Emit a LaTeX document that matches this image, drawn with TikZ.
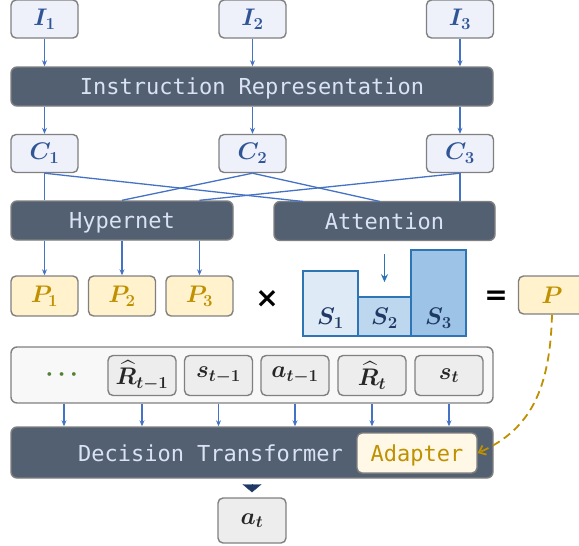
\RequirePackage{fix-cm}
\documentclass[tikz,border=0pt]{standalone}
\usepackage{amsmath,bm}
\usepackage{fontspec}
\setmonofont{DejaVu Sans Mono}
\newfontfamily\opfont{DejaVu Sans}
\usetikzlibrary{arrows.meta,calc}
\definecolor{bord}{HTML}{808080}
\definecolor{darkfill}{HTML}{536072}
\definecolor{bartext}{HTML}{DAE3F3}
\definecolor{lav}{HTML}{EEF0FA}
\definecolor{ibl}{HTML}{2F5597}
\definecolor{lineblue}{HTML}{4472C4}
\definecolor{pfill}{HTML}{FFF2CC}
\definecolor{gold}{HTML}{BF9000}
\definecolor{adfill}{HTML}{FFF8E6}
\definecolor{seqfill}{HTML}{F8F8F8}
\definecolor{innerfill}{HTML}{EDEDED}
\definecolor{mathdark}{HTML}{262626}
\definecolor{dotgreen}{HTML}{548235}
\definecolor{navy}{HTML}{1F3864}
\definecolor{sborder}{HTML}{2E75B6}
\definecolor{sone}{HTML}{DEEBF7}
\definecolor{stwo}{HTML}{BDD7EE}
\definecolor{sthree}{HTML}{9DC3E6}
\tikzset{
  mathfont/.style={font=\fontsize{24}{26}\selectfont},
  ibox/.style={draw=bord, line width=1.4pt, rounded corners=5pt, fill=lav, text=ibl,
    minimum width=67pt, minimum height=38pt, inner sep=0pt, mathfont},
  bar/.style={draw=bord, line width=1.4pt, rounded corners=6pt, fill=darkfill, text=bartext,
    inner sep=0pt, text height=18pt, text depth=2pt, font=\ttfamily\fontsize{22}{24}\selectfont},
  pbox/.style={draw=bord, line width=1.4pt, rounded corners=5pt, fill=pfill, text=gold,
    minimum width=67pt, minimum height=40pt, inner sep=0pt, mathfont},
  seqbox/.style={draw=bord, line width=1.4pt, rounded corners=6pt, fill=seqfill,
    minimum width=482pt, minimum height=56pt, inner sep=0pt},
  tokbox/.style={draw=bord, line width=1.4pt, rounded corners=5pt, fill=innerfill, text=mathdark,
    minimum width=68pt, minimum height=40pt, inner sep=0pt, mathfont},
  srect/.style={draw=sborder, line width=1.6pt, inner sep=0pt},
  stext/.style={text=navy, inner sep=0pt, mathfont},
  conn/.style={draw=lineblue, line width=1.3pt},
  arr/.style={conn, -{Stealth[length=6pt,width=5pt]}},
  opsym/.style={inner sep=0pt, font=\opfont\bfseries\fontsize{28}{30}\selectfont},
}
\begin{document}
\begin{tikzpicture}[x=1pt,y=-1pt]
\useasboundingbox (0,0) rectangle (579,546);
% top row
\node[ibox] (i1) at (44.5,19) {$\bm{I}_{\bm{1}}$};
\node[ibox] (i2) at (252.5,19) {$\bm{I}_{\bm{2}}$};
\node[ibox] (i3) at (460,19) {$\bm{I}_{\bm{3}}$};
\node[bar, minimum width=482pt, minimum height=39pt] (ir) at (252,86.5) {Instruction Representation};
\node[ibox] (c1) at (44.5,153.5) {$\bm{C}_{\bm{1}}$};
\node[ibox] (c2) at (252.5,153.5) {$\bm{C}_{\bm{2}}$};
\node[ibox] (c3) at (460,153.5) {$\bm{C}_{\bm{3}}$};
\node[bar, minimum width=222pt, minimum height=39pt] (hyp) at (122,220.5) {Hypernet};
\node[bar, minimum width=221pt, minimum height=39pt] (att) at (384.5,221) {Attention};
% P row
\node[pbox] (p1) at (44.5,296) {$\bm{P}_{\bm{1}}$};
\node[pbox] (p2) at (122,296) {$\bm{P}_{\bm{2}}$};
\node[pbox] (p3) at (199.5,296) {$\bm{P}_{\bm{3}}$};
\node[opsym] (times) at (267,299) {×};
\node[srect, fill=sone, minimum width=55pt, minimum height=65pt] (s1) at (330.5,303.5) {};
\node[srect, fill=stwo, minimum width=53pt, minimum height=39pt] (s2) at (384.5,316.5) {};
\node[srect, fill=sthree, minimum width=55pt, minimum height=86pt] (s3) at (438.5,293) {};
\node[stext] (s1t) at (330.5,318) {$\bm{S}_{\bm{1}}$};
\node[stext] (s2t) at (384.5,318) {$\bm{S}_{\bm{2}}$};
\node[stext] (s3t) at (438.5,318) {$\bm{S}_{\bm{3}}$};
\node[opsym] (eq) at (496,298) {=};
\node[pbox, minimum height=38pt] (p) at (552,295) {$\bm{P}$};
% sequence
\node[seqbox] (seq) at (252,375) {};
\node[text=dotgreen, mathfont] (dots) at (64,375) {$\bm{\cdots}$};
\node[tokbox] (r1) at (142,375.5) {$\bm{\widehat{R}}_{\bm{t-1}}$};
\node[tokbox] (sm) at (218.5,375.5) {$\bm{s}_{\bm{t-1}}$};
\node[tokbox] (am) at (295,375.5) {$\bm{a}_{\bm{t-1}}$};
\node[tokbox] (rt) at (372,375.5) {$\bm{\widehat{R}}_{\bm{t}}$};
\node[tokbox] (st) at (449,375.5) {$\bm{s}_{\bm{t}}$};
\node[bar, minimum width=482pt, minimum height=51pt] (dt) at (252,452.5) {};
\node[text=bartext, inner sep=0pt, text height=18pt, text depth=2pt, font=\ttfamily\fontsize{22}{24}\selectfont] (dtt) at (210.5,453) {Decision Transformer};
\node[draw=bord, line width=1.4pt, rounded corners=5pt, fill=adfill, text=gold, minimum width=120pt,
  minimum height=40pt, inner sep=0pt, text height=18pt, text depth=2pt, font=\ttfamily\fontsize{22}{24}\selectfont] (ad) at (417,453) {Adapter};
\node[tokbox, minimum height=45pt] (at) at (252,520.5) {$\bm{a}_{\bm{t}}$};
% arrows top
\foreach \a/\b in {i1/c1,i2/c2,i3/c3}{
  \draw[arr] (\a.south) -- (\a.south |- ir.north);
  \draw[arr] (\b.north |- ir.south) -- (\b.north);
}
% crossing lines
\coordinate (ha) at (c1.south |- hyp.north);
\coordinate (hb) at (p2.north |- hyp.north);
\coordinate (hc) at (p3.north |- hyp.north);
\coordinate (aa) at (303,201.5);
\coordinate (ab) at (380,201.5);
\coordinate (ac) at (c3.south |- att.north);
\draw[conn] (c1.south) -- (ha);
\draw[conn] (c1.south) -- (aa);
\draw[conn] (c2.south) -- (hb);
\draw[conn] (c2.south) -- (ab);
\draw[conn] (c3.south) -- (hc);
\draw[conn] (c3.south) -- (ac);
% hypernet to P
\foreach \q in {p1,p2,p3}{
  \draw[arr] (\q.north |- hyp.south) -- (\q.north);
}
% attention to S2
\draw[draw=sborder, line width=1.8pt, -{Stealth[length=8pt,width=7pt]}, shorten <=13pt, shorten >=14pt]
  (s2.north |- att.south) -- (s2.north);
% sequence to DT
\draw[arr] (dots.south |- seq.south) -- (dots.south |- dt.north);
\foreach \q in {r1,sm,am,rt,st}{
  \draw[arr] (\q.south |- seq.south) -- (\q.south |- dt.north);
}
% DT to a_t
\draw[navy, line width=0.4pt, -{Triangle[width=19pt,length=8pt]}, shorten <=7pt, shorten >=5pt] (dt.south) -- (at.north);
% P to adapter
\draw[gold, line width=1.8pt, dash pattern=on 8pt off 5pt, -{Straight Barb[length=6pt,width=10pt]}]
  (p.south) .. controls (550,390) and (530,430) .. (ad.east);
\end{tikzpicture}
\end{document}
